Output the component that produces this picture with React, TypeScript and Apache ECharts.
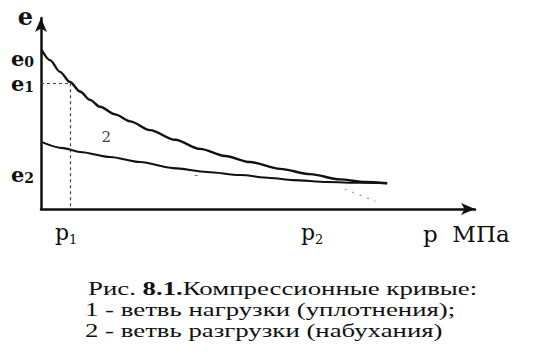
import React, { useEffect, useRef } from "react";
import * as echarts from "echarts";

// compression (loading) branch
const loadP = [0.016, 0.205, 0.432, 0.659, 0.886, 1.114, 1.341, 1.682, 2.023, 2.477, 3.045, 3.614, 4.182, 4.75, 5.432, 6.114, 6.795, 7.364, 7.864];
const loadE = [0.82, 0.768, 0.707, 0.655, 0.606, 0.563, 0.527, 0.488, 0.452, 0.407, 0.357, 0.31, 0.273, 0.242, 0.207, 0.18, 0.153, 0.139, 0.133];
// unloading (swelling) branch
const unloadP = [0.02, 0.5, 0.886, 1.568, 2.25, 3.0, 3.773, 4.523, 5.205, 5.727, 6.5, 7.25, 7.864];
const unloadE = [0.345, 0.314, 0.294, 0.268, 0.242, 0.211, 0.191, 0.175, 0.16, 0.149, 0.139, 0.135, 0.133];

// tick labels (e0 on its own axis so that it is not hidden as an overlap)
const eTickValuesA = [0.648, 0.18];
const eTickSubsA = ["1", "2"];
const eTickValuesB = [0.778];
const eTickSubsB = ["0"];
const pTickValues = [0.57, 6.16];
const pTickSubs = ["1", "2"];

// guide lines
const p1 = 0.66;
const e1 = 0.649;
const dotsP = [6.9, 7.6];
const dotsE = [0.103, 0.04];

// curve labels
const curveLabelTexts = ["2", "-"];
const curveLabelP = [1.48, 3.52];
const curveLabelE = [0.37, 0.175];

const captionLines = [
  "Рис. {b|8.1.}Компрессионные кривые:",
  "1 - ветвь нагрузки (уплотнения);",
  "2 - ветвь разгрузки (набухания)",
];

const nearest = (arr: number[], v: number) => {
  let bi = 0;
  arr.forEach((a, i) => {
    if (Math.abs(a - v) < Math.abs(arr[bi] - v)) bi = i;
  });
  return bi;
};

export default function App() {
  const ref = useRef<HTMLDivElement>(null);
  useEffect(() => {
    if (!ref.current) return;
    const chart = echarts.init(ref.current, null, { renderer: "svg" });
    const serif = "DejaVu Serif";
    const eRich = {
      m: { fontFamily: serif, fontWeight: "bold", fontSize: 21, color: "#111", lineHeight: 16 },
      s: { fontFamily: serif, fontWeight: "bold", fontSize: 14, color: "#111", lineHeight: 11, padding: [7, 0, 0, 0] },
    };
    const yBase = {
      type: "value",
      min: 0,
      max: 0.985,
      position: "left",
      splitLine: { show: false },
      axisTick: { show: false },
    };
    chart.setOption({
      animation: false,
      backgroundColor: "#fff",
      grid: { left: 41, top: 18, width: 434, height: 191, outerBoundsMode: "none" },
      xAxis: {
        type: "value",
        min: 0,
        max: 9.86,
        splitLine: { show: false },
        axisTick: { show: false },
        axisLine: {
          show: true,
          onZero: false,
          symbol: ["none", "arrow"],
          symbolSize: [9, 14],
          lineStyle: { color: "#111", width: 2.5 },
        },
        axisLabel: {
          customValues: pTickValues,
          hideOverlap: false,
          margin: 12,
          formatter: (v: number) => `{m|p}{s|${pTickSubs[nearest(pTickValues, v)]}}`,
          rich: {
            m: { fontFamily: serif, fontSize: 22, color: "#111", lineHeight: 22 },
            s: { fontFamily: serif, fontSize: 13, color: "#111", lineHeight: 13, padding: [14, 0, 0, 0] },
          },
        },
        name: "p  МПа",
        nameLocation: "end",
        nameGap: -52,
        nameMoveOverlap: false,
        nameTextStyle: {
          fontFamily: serif,
          fontSize: 23,
          color: "#111",
          align: "left",
          verticalAlign: "top",
          padding: [13, 0, 0, 0],
        },
      },
      yAxis: [
        {
          ...yBase,
          axisLine: {
            show: true,
            onZero: false,
            symbol: ["none", "arrow"],
            symbolSize: [9, 14],
            lineStyle: { color: "#111", width: 2.5 },
          },
          axisLabel: {
            customValues: eTickValuesA,
            hideOverlap: false,
            margin: 7,
            formatter: (v: number) => `{m|e}{s|${eTickSubsA[nearest(eTickValuesA, v)]}}`,
            rich: eRich,
          },
          name: "e",
          nameLocation: "end",
          nameGap: 2,
          nameMoveOverlap: false,
          nameTextStyle: {
            fontFamily: serif,
            fontWeight: "bold",
            fontSize: 24,
            color: "#111",
            align: "right",
            verticalAlign: "middle",
            padding: [0, 8, 0, 0],
          },
        },
        {
          ...yBase,
          axisLine: { show: false, onZero: false },
          axisLabel: {
            customValues: eTickValuesB,
            hideOverlap: false,
            showMinLabel: true,
            showMaxLabel: true,
            margin: 7,
            formatter: (v: number) => `{m|e}{s|${eTickSubsB[nearest(eTickValuesB, v)]}}`,
            rich: eRich,
          },
        },
      ],
      series: [
        {
          name: "1 - ветвь нагрузки (уплотнения)",
          type: "line",
          smooth: 0.3,
          smoothMonotone: "x",
          symbol: "none",
          data: loadP.map((p, i) => [p, loadE[i]]),
          lineStyle: { color: "#111", width: 2.4 },
          markPoint: {
            symbol: "circle",
            symbolSize: 0,
            silent: true,
            data: curveLabelTexts.map((t, i) => ({
              coord: [curveLabelP[i], curveLabelE[i]],
              label: {
                show: true,
                formatter: t,
                position: "inside",
                fontFamily: serif,
                fontSize: i === 0 ? 15 : 12,
                color: i === 0 ? "#444" : "#777",
              },
            })),
          },
        },
        {
          name: "2 - ветвь разгрузки (набухания)",
          type: "line",
          smooth: 0.3,
          smoothMonotone: "x",
          symbol: "none",
          data: unloadP.map((p, i) => [p, unloadE[i]]),
          lineStyle: { color: "#111", width: 2.1 },
          markLine: {
            silent: true,
            symbol: "none",
            label: { show: false },
            lineStyle: { color: "#444", width: 1.2, type: [3, 3] },
            data: [
              [{ coord: [0, e1] }, { coord: [p1, e1] }],
              [{ coord: [p1, e1] }, { coord: [p1, 0] }],
              [
                { coord: [dotsP[0], dotsE[0]], lineStyle: { color: "#999", type: [2, 6] } },
                { coord: [dotsP[1], dotsE[1]] },
              ],
            ],
          },
        },
      ],
      graphic: captionLines.map((t, i) => ({
        type: "text",
        x: i === 0 ? 88 : 85,
        y: 280 + i * 21,
        scaleX: 1.49,
        style: {
          text: t,
          font: "18px Liberation Serif",
          fontFamily: "Liberation Serif",
          fontSize: 18,
          fill: "#111",
          rich: {
            b: { font: "bold 18px Liberation Serif", fontFamily: "Liberation Serif", fontSize: 18, fontWeight: "bold", fill: "#111" },
          },
        },
      })),
    });
    return () => chart.dispose();
  }, []);
  return (
    <div
      ref={ref}
      style={{ position: "fixed", left: 0, top: 0, width: 540, height: 355, background: "#fff" }}
    />
  );
}
